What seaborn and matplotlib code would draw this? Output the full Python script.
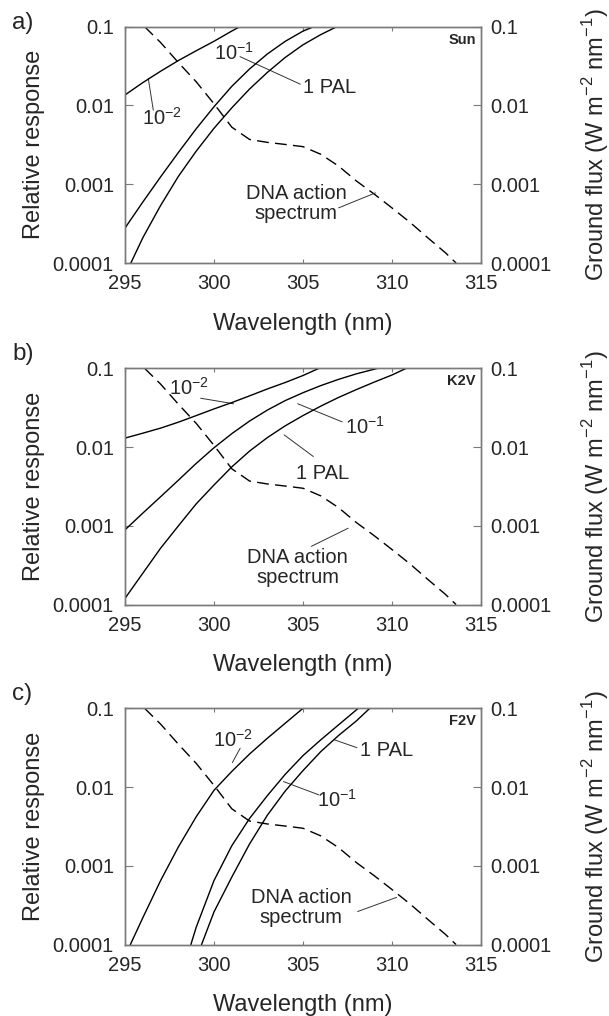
import numpy as np
import pandas as pd
import seaborn as sns
from matplotlib import pyplot as plt

# DNA action spectrum (same in all panels)
dna_wl = [296.1, 297, 298, 299, 300, 301, 302, 303, 304, 305, 306, 307, 308, 309, 310, 311, 312, 313, 313.6]
dna_val = [0.1, 0.063, 0.035, 0.02, 0.0105, 0.0053, 0.0037, 0.0034, 0.0032, 0.003, 0.0024, 0.0017, 0.0011,
           7.5e-4, 5e-4, 3.3e-4, 2.1e-4, 1.35e-4, 1e-4]

# a) Sun
sun_m2_wl = [295, 296, 297, 298, 299, 300, 301, 301.45]
sun_m2 = [0.0136, 0.0195, 0.0272, 0.0372, 0.0495, 0.0653, 0.0881, 0.1]
sun_m1_wl = [295, 296, 297, 298, 299, 300, 301, 302, 303, 304, 305, 305.6]
sun_m1 = [2.78e-4, 5.94e-4, 1.24e-3, 2.53e-3, 5.06e-3, 9.64e-3, 0.0175, 0.0291, 0.0451, 0.0652, 0.0879, 0.1]
sun_pal_wl = [295.33, 296, 297, 298, 299, 300, 301, 302, 303, 304, 305, 306, 306.9]
sun_pal = [1e-4, 2.09e-4, 5.37e-4, 1.26e-3, 2.63e-3, 5.13e-3, 9.33e-3, 0.0162, 0.0263, 0.0407, 0.0589, 0.0794, 0.1]

# b) K2V
k2v_m2_wl = [295, 296, 297, 298, 299, 300, 301, 302, 303, 304, 305, 305.9]
k2v_m2 = [0.013, 0.015, 0.0174, 0.0207, 0.0251, 0.0305, 0.0367, 0.0447, 0.0547, 0.066, 0.081, 0.1]
k2v_m1_wl = [295, 296, 297, 298, 299, 300, 301, 302, 303, 304, 305, 306, 307, 308, 309.2]
k2v_m1 = [8.9e-4, 1.45e-3, 2.34e-3, 3.8e-3, 6.2e-3, 9.8e-3, 0.0148, 0.0214, 0.0295, 0.0389, 0.049, 0.0603,
          0.0724, 0.0851, 0.1]
k2v_pal_wl = [295, 296, 297, 298, 299, 300, 301, 302, 303, 304, 305, 306, 307, 308, 309, 310, 310.8]
k2v_pal = [1.2e-4, 2.5e-4, 5.2e-4, 1e-3, 1.9e-3, 3.3e-3, 5.6e-3, 8.9e-3, 0.0132, 0.0186, 0.0251, 0.0331,
           0.0427, 0.0537, 0.0668, 0.0822, 0.1]

# c) F2V
f2v_m2_wl = [295.3, 296, 297, 298, 299, 300, 301, 302, 303, 304, 305]
f2v_m2 = [1e-4, 2.19e-4, 6.5e-4, 1.74e-3, 4.2e-3, 9.1e-3, 0.0158, 0.0263, 0.0417, 0.0646, 0.1]
f2v_m1_wl = [298.7, 299, 300, 301, 302, 303, 304, 305, 306, 307, 308, 308.1]
f2v_m1 = [1e-4, 1.66e-4, 6.5e-4, 1.8e-3, 4e-3, 7.8e-3, 0.0145, 0.0251, 0.0398, 0.0617, 0.0955, 0.1]
f2v_pal_wl = [299.3, 300, 301, 302, 303, 304, 305, 306, 307, 308, 308.75]
f2v_pal = [1e-4, 2.6e-4, 7.2e-4, 1.9e-3, 4.4e-3, 8.9e-3, 0.0162, 0.0282, 0.0452, 0.0692, 0.1]

star_names = ["Sun", "K2V", "F2V"]
panel_tags = ["a)", "b)", "c)"]
flux_curves = [
    [(sun_m2_wl, sun_m2), (sun_m1_wl, sun_m1), (sun_pal_wl, sun_pal)],
    [(k2v_m2_wl, k2v_m2), (k2v_m1_wl, k2v_m1), (k2v_pal_wl, k2v_pal)],
    [(f2v_m2_wl, f2v_m2), (f2v_m1_wl, f2v_m1), (f2v_pal_wl, f2v_pal)],
]

M2 = r"$\mathregular{10^{-2}}$"
M1 = r"$\mathregular{10^{-1}}$"
DNA = "DNA action\nspectrum"
# (text, text x, text log y, ha, leader start (x, logy), leader end (x, logy))
labels = [
    [(M1, 301.15, -1.33, "center", (301.46, -1.38), (304.85, -1.73)),
     ("1 PAL", 305.0, -1.77, "left", None, None),
     (M2, 297.1, -2.16, "center", (296.59, -2.06), (296.31, -1.66)),
     (DNA, 304.6, -3.24, "center", (307.0, -3.30), (309.07, -3.11))],
    [(M2, 298.6, -1.25, "center", (299.25, -1.38), (301.1, -1.45)),
     (M1, 308.5, -1.74, "center", (307.2, -1.68), (304.7, -1.45)),
     ("1 PAL", 306.1, -2.33, "center", (305.58, -2.12), (303.94, -1.845)),
     (DNA, 304.7, -3.53, "center", (305.47, -3.26), (307.54, -3.03))],
    [(M2, 301.08, -1.40, "center", (301.47, -1.507), (301.03, -1.69)),
     ("1 PAL", 308.2, -1.53, "left", (308.03, -1.50), (306.76, -1.40)),
     (M1, 306.93, -2.16, "center", (305.9, -2.10), (303.9, -1.93)),
     (DNA, 304.9, -3.53, "center", (308.07, -3.58), (310.26, -3.40))],
]

sns.set_theme(style="white")
plt.rcParams['font.family'] = ['Liberation Sans', 'DejaVu Sans']
plt.rcParams['mathtext.fontset'] = 'custom'
plt.rcParams['mathtext.rm'] = 'Liberation Sans'

W, H = 609, 1016
fig = plt.figure(figsize=(W / 100, H / 100), dpi=100)

frame_col = "#7a7a7a"
tops = [26.7, 368.3, 708.3]
tag_tops = [12, 343, 683]
yt = [1e-4, 1e-3, 1e-2, 1e-1]
ytl = ["0.0001", "0.001", "0.01", "0.1"]

for i in range(3):
    top = tops[i]
    ax = fig.add_axes([125 / W, 1 - (top + 236.3) / H, 356 / W, 236.3 / H])
    ax2 = ax.twinx()

    df_dna = pd.DataFrame({"wl": dna_wl, "val": dna_val})
    sns.lineplot(data=df_dna, x="wl", y="val", ax=ax, color="black", lw=1.0,
                 linestyle=(0, (8.5, 4.5)))
    for wl, val in flux_curves[i]:
        sns.lineplot(x=wl, y=val, ax=ax2, color="black", lw=1.0)

    for a in (ax, ax2):
        a.set_yscale("log")
        a.set_ylim(1e-4, 0.1)
        a.set_xlim(295, 315)
        a.set_yticks(yt)
        a.set_yticklabels(ytl)
        a.minorticks_off()
        for s in a.spines.values():
            s.set_color(frame_col)
            s.set_linewidth(1.0)

    ax.set_xticks([295, 300, 305, 310, 315])
    ax.tick_params(axis="x", direction="in", top=True, bottom=True, length=3, width=0.8,
                   color=frame_col, labelsize=14.5, pad=8)
    ax.tick_params(axis="y", direction="in", left=True, right=False, length=6, width=0.8,
                   color=frame_col, labelsize=14.5, pad=8)
    ax2.tick_params(axis="y", direction="in", right=True, left=False, length=6, width=0.8,
                    color=frame_col, labelsize=14.5, pad=6.5)

    ax.set_xlabel("Wavelength (nm)", fontsize=17)
    ax.set_ylabel("Relative response", fontsize=17)
    ax2.set_ylabel(r"Ground flux (W m$^{-2}$ nm$^{-1}$)", fontsize=17)
    ax.xaxis.set_label_coords(0.5, -0.21)
    ax.yaxis.set_label_coords(-0.225, 0.5)
    ax2.yaxis.set_label_coords(1.278, 0.5)

    ax.text(0.985, 0.975, star_names[i], transform=ax.transAxes, ha="right", va="top",
            fontsize=10.5, fontweight="bold")
    fig.text(12 / W, 1 - tag_tops[i] / H, panel_tags[i], ha="left", va="top", fontsize=17.5)

    for txt, tx, ty, ha, p0, p1 in labels[i]:
        ax.text(tx, 10 ** ty, txt, ha=ha, va="center", fontsize=14.5, linespacing=1.05)
        if p0 is not None:
            ax.annotate("", xy=(p1[0], 10 ** p1[1]), xytext=(p0[0], 10 ** p0[1]),
                        arrowprops=dict(arrowstyle="-", color="#333333", lw=0.7,
                                        shrinkA=0, shrinkB=0))

fig.savefig("out.png", dpi=100)
